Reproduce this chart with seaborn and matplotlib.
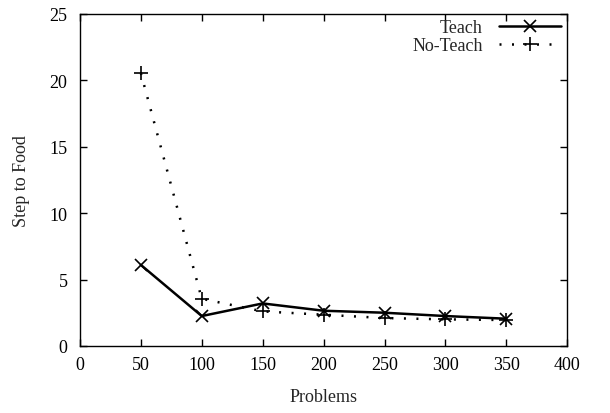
import pandas as pd
import seaborn as sns
import matplotlib.pyplot as plt

# datos
problems = [50, 100, 150, 200, 250, 300, 350]
teach = [6.1, 2.25, 3.2, 2.65, 2.5, 2.25, 2.05]
no_teach = [20.55, 3.55, 2.6, 2.35, 2.1, 2.0, 1.95]

df = pd.DataFrame({'Problems': problems * 2,
                   'Steps': teach + no_teach,
                   'Serie': ['Teach'] * 7 + ['No-Teach'] * 7})

sns.set_style('ticks')
plt.rcParams['font.family'] = ['Liberation Serif', 'DejaVu Serif']

fig, ax = plt.subplots(figsize=(6.1, 4.14), dpi=100)
fig.subplots_adjust(left=0.131, right=0.93, top=0.964, bottom=0.162)

sns.lineplot(data=df[df.Serie == 'Teach'], x='Problems', y='Steps', ax=ax,
             color='black', linewidth=1.8, marker='x', markersize=8,
             markeredgewidth=1.2, markeredgecolor='black', label='Teach')
sns.lineplot(data=df[df.Serie == 'No-Teach'], x='Problems', y='Steps', ax=ax,
             color='black', linewidth=1.8, linestyle=(0, (0.8, 4.2)),
             marker='+', markersize=10, markeredgewidth=1.2,
             markeredgecolor='black', label='No-Teach')

ax.set_xlim(0, 400)
ax.set_ylim(0, 25)
ax.set_xticks(range(0, 401, 50))
ax.set_yticks(range(0, 26, 5))
ax.set_xlabel('Problems', fontsize=13, labelpad=11)
ax.set_ylabel('Step to Food', fontsize=13, labelpad=14)
ax.tick_params(axis='x', pad=7)
ax.tick_params(axis='y', pad=9)
ax.tick_params(direction='in', top=True, right=True, labelsize=13, length=5,
               width=1, colors='black')
for s in ax.spines.values():
    s.set_linewidth(1)
    s.set_color('black')

ax.legend(loc='upper right', bbox_to_anchor=(0.99, 0.99), frameon=False,
          markerfirst=False, fontsize=13, handlelength=3.4, borderaxespad=0.0,
          borderpad=0.1, labelspacing=0.05, handletextpad=0.9)

plt.savefig('out.png', dpi=100)
